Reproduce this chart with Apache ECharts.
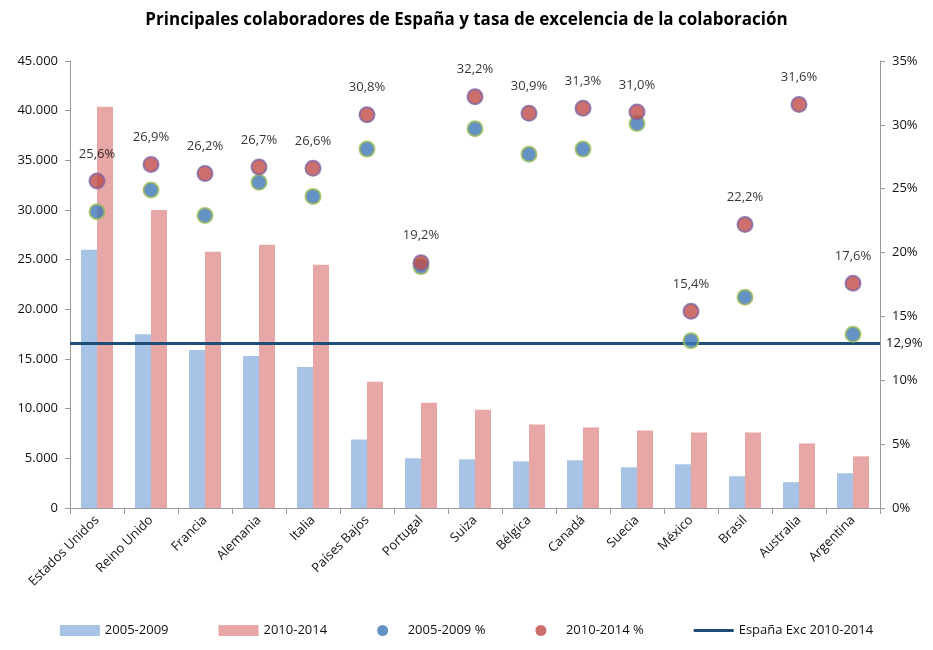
<!DOCTYPE html>
<html>
<head>
<meta charset="utf-8">
<title>Principales colaboradores de España</title>
<script src="https://cdn.jsdelivr.net/npm/echarts@6/dist/echarts.min.js"></script>
<style>
  html, body { margin: 0; padding: 0; background: #fff; }
  #chartBox { width: 933px; height: 650px; }
</style>
</head>
<body>
<div id="chartBox"></div>
<script>
// paises
var countries = ['Estados Unidos', 'Reino Unido', 'Francia', 'Alemania', 'Italia', 'Países Bajos', 'Portugal',
  'Suiza', 'Bélgica', 'Canadá', 'Suecia', 'México', 'Brasil', 'Australia', 'Argentina'];
// documentos en colaboracion
var docs0509 = [26000, 17500, 15900, 15300, 14200, 6900, 5000, 4900, 4700, 4800, 4100, 4400, 3200, 2600, 3500];
var docs1014 = [40400, 30000, 25800, 26500, 24500, 12700, 10600, 9900, 8400, 8100, 7800, 7600, 7600, 6500, 5200];
// tasa de excelencia (%)
var exc0509 = [23.2, 24.9, 22.9, 25.5, 24.4, 28.1, 18.9, 29.7, 27.7, 28.1, 30.1, 13.1, 16.5, null, 13.6];
var exc1014 = [25.6, 26.9, 26.2, 26.7, 26.6, 30.8, 19.2, 32.2, 30.9, 31.3, 31.0, 15.4, 22.2, 31.6, 17.6];
var espanaExc = 12.9;

var font = 'Open Sans';

function fmtMiles(v) {
  return String(v).replace(/\B(?=(\d{3})+(?!\d))/g, '.');
}
function fmtPct(v) {
  return v.toFixed(1).replace('.', ',') + '%';
}

var getOptions = function () {
  return {
    textStyle: { fontFamily: font },
    title: {
      text: 'Principales colaboradores de España y tasa de excelencia de la colaboración',
      left: 'center',
      top: 7,
      textStyle: { fontSize: 17, fontWeight: 'bold', color: '#000', fontFamily: font }
    },
    legend: {
      bottom: 8,
      itemGap: 50,
      itemWidth: 40,
      itemHeight: 11,
      textStyle: { fontSize: 13, color: '#111', fontFamily: font },
      data: [
        { name: '2005-2009', icon: 'rect' },
        { name: '2010-2014', icon: 'rect' },
        { name: '2005-2009 %', icon: 'circle', itemStyle: { borderWidth: 0 } },
        { name: '2010-2014 %', icon: 'circle', itemStyle: { borderWidth: 0 } },
        { name: 'España Exc 2010-2014', icon: 'path://M0,0 L40,0 L40,3 L0,3 Z' }
      ]
    },
    grid: { left: 70, right: 53, top: 61, bottom: 142 },
    xAxis: [{
      type: 'category',
      data: countries,
      axisLine: { lineStyle: { color: '#999' } },
      axisTick: { show: true, length: 6, lineStyle: { color: '#999' } },
      axisLabel: { rotate: 45, fontSize: 13, color: '#111', margin: 10, interval: 0 }
    }],
    yAxis: [
      {
        type: 'value',
        min: 0,
        max: 45000,
        interval: 5000,
        splitLine: { show: false },
        axisLine: { show: true, lineStyle: { color: '#999' } },
        axisTick: { show: true, length: 5, lineStyle: { color: '#999' } },
        axisLabel: { fontSize: 13, color: '#111', margin: 12, formatter: fmtMiles }
      },
      {
        type: 'value',
        min: 0,
        max: 35,
        interval: 5,
        position: 'right',
        splitLine: { show: false },
        axisLine: { show: true, lineStyle: { color: '#999' } },
        axisTick: { show: true, length: 5, lineStyle: { color: '#999' } },
        axisLabel: { fontSize: 13, color: '#111', margin: 12, formatter: '{value}%' }
      }
    ],
    series: [
      {
        name: '2005-2009',
        type: 'bar',
        barWidth: 16,
        barGap: '0%',
        itemStyle: { color: '#A7C3E6' },
        data: docs0509
      },
      {
        name: '2010-2014',
        type: 'bar',
        barWidth: 16,
        barGap: '0%',
        itemStyle: { color: '#E6A7A6' },
        data: docs1014
      },
      {
        name: 'España Exc 2010-2014',
        type: 'line',
        yAxisIndex: 1,
        symbol: 'none',
        itemStyle: { color: '#1F4E79' },
        lineStyle: { color: '#1F4E79', width: 3 },
        data: [],
        markLine: {
          silent: true,
          symbol: ['none', 'none'],
          lineStyle: { color: '#1F4E79', width: 3, type: 'solid' },
          label: {
            position: 'end',
            distance: 6,
            fontSize: 13,
            color: '#111',
            fontFamily: font,
            formatter: function () { return fmtPct(espanaExc); }
          },
          data: [{ yAxis: espanaExc }]
        },
        z: 3
      },
      {
        name: '2005-2009 %',
        type: 'scatter',
        yAxisIndex: 1,
        symbolSize: 15,
        itemStyle: { color: '#3E77B5', borderColor: '#9BBB59', borderWidth: 2 },
        data: exc0509,
        z: 5
      },
      {
        name: '2010-2014 %',
        type: 'scatter',
        yAxisIndex: 1,
        symbolSize: 15,
        itemStyle: { color: '#BF4B48', borderColor: '#8064A2', borderWidth: 2 },
        label: {
          show: true,
          position: 'top',
          distance: 12,
          fontSize: 13,
          color: '#000',
          fontFamily: font,
          formatter: function (p) { return fmtPct(p.value); }
        },
        data: exc1014,
        z: 6
      }
    ]
  };
};

var chartDom = document.getElementById('chartBox');
var myChart = echarts.init(chartDom);
myChart.setOption(getOptions(), true);
</script>
</body>
</html>
